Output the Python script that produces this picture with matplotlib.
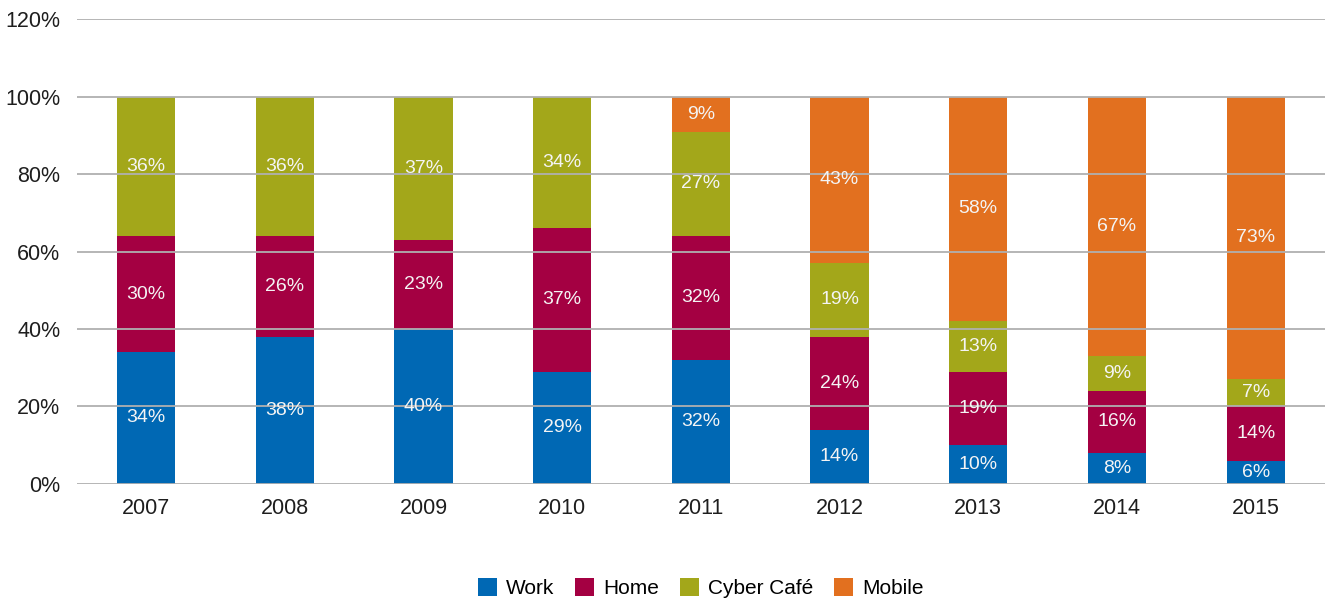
import matplotlib.pyplot as plt
import numpy as np

years = ['2007', '2008', '2009', '2010', '2011', '2012', '2013', '2014', '2015']
work = [34, 38, 40, 29, 32, 14, 10, 8, 6]
home = [30, 26, 23, 37, 32, 24, 19, 16, 14]
cyber = [36, 36, 37, 34, 27, 19, 13, 9, 7]
mobile = [0, 0, 0, 0, 9, 43, 58, 67, 73]

series = [('Work', work, '#0068b4'),
          ('Home', home, '#a40042'),
          ('Cyber Café', cyber, '#a3a71a'),
          ('Mobile', mobile, '#e2701f')]

plt.rcParams['font.family'] = ['Liberation Sans', 'DejaVu Sans']

fig = plt.figure(figsize=(13.25, 6.01), dpi=100)
ax = fig.add_axes([0.058, 0.195, 0.942, 0.773])

x = np.arange(len(years))
bottom = np.zeros(len(years))
for name, vals, col in series:
    vals = np.array(vals, dtype=float)
    ax.bar(x, vals, 0.42, bottom=bottom, color=col, label=name, zorder=1)
    for xi, b, v in zip(x, bottom, vals):
        if v > 0:
            ax.text(xi, b + v / 2, f'{int(v)}%', ha='center', va='center',
                    color='#f4f4f4', fontsize=14, zorder=3)
    bottom += vals

ax.set_xlim(-0.5, 8.5)
ax.set_ylim(0, 120)
ax.set_yticks(range(0, 121, 20))
ax.set_yticklabels([f'{t}%' for t in range(0, 121, 20)])
ax.set_xticks(x)
ax.set_xticklabels(years)
ax.yaxis.grid(True, color='#b0b0b0', linewidth=1.3, zorder=2)
ax.set_axisbelow(False)
for s in ax.spines.values():
    s.set_visible(False)
ax.tick_params(axis='both', length=0, labelsize=15.5, colors='#1e1e1e')
ax.tick_params(axis='y', pad=12)
ax.tick_params(axis='x', pad=10)

ax.legend(loc='center', bbox_to_anchor=(0.5, -0.225), ncol=4,
          frameon=False, fontsize=15, handlelength=0.9, handleheight=0.9,
          handletextpad=0.45, columnspacing=1.0)

fig.savefig('out.png', dpi=100)
